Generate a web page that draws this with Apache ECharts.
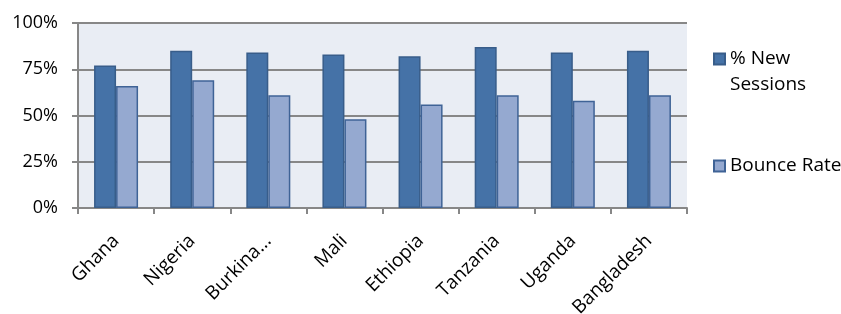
<!DOCTYPE html>
<html>
<head>
<meta charset="utf-8">
<script src="https://cdn.jsdelivr.net/npm/echarts@6/dist/echarts.min.js"></script>
<style>
  html, body { margin: 0; padding: 0; background: #fff; }
  #chart { width: 841px; height: 314px; }
</style>
</head>
<body>
<div id="chart"></div>
<script>
// countries shown on the x axis (third one is cut off in the original)
const countries = ['Ghana', 'Nigeria', 'Burkina...', 'Mali', 'Ethiopia', 'Tanzania', 'Uganda', 'Bangladesh']
const newSessions = [77, 85, 84, 83, 82, 87, 84, 85]
const bounceRate = [66, 69, 61, 48, 56, 61, 58, 61]
const yTicks = [0, 25, 50, 75, 100]

const font = 'Open Sans'
const chart = echarts.init(document.getElementById('chart'))

chart.setOption({
    animation: false,
    textStyle: {fontFamily: font},
    grid: {
        left: 78, right: 154, top: 23, bottom: 106,
        outerBoundsMode: 'none', containLabel: false,
        show: true, backgroundColor: '#e9edf4', borderWidth: 0
    },
    legend: [{
        data: ['% New Sessions'],
        orient: 'vertical', left: 713, top: 20, padding: 0,
        icon: 'rect', itemWidth: 11, itemHeight: 11,
        // blank first line keeps the icon level with "% New"
        formatter: () => ' \n% New\nSessions',
        textStyle: {fontSize: 19, color: '#000', lineHeight: 26}
    }, {
        data: ['Bounce Rate'],
        orient: 'vertical', left: 713, top: 153, padding: 0,
        icon: 'rect', itemWidth: 11, itemHeight: 11,
        textStyle: {fontSize: 19, color: '#000', lineHeight: 26}
    }],
    xAxis: {
        type: 'category',
        data: countries,
        axisLine: {lineStyle: {color: '#878787', width: 2}},
        axisTick: {show: true, length: 6, lineStyle: {color: '#878787', width: 2}},
        axisLabel: {interval: 0, rotate: 45, fontSize: 19, color: '#000', margin: 30}
    },
    yAxis: {
        type: 'value',
        min: yTicks[0], max: yTicks[yTicks.length - 1], interval: 25,
        axisLine: {show: true, lineStyle: {color: '#878787', width: 2}},
        axisTick: {show: true, length: 6, lineStyle: {color: '#878787', width: 2}},
        axisLabel: {fontSize: 18, color: '#000', margin: 20, formatter: v => v + '%'},
        splitLine: {lineStyle: {color: '#878787', width: 2}}
    },
    series: [{
        name: '% New Sessions',
        type: 'bar',
        data: newSessions,
        barWidth: 22,
        barGap: '0%',
        itemStyle: {color: '#4572a7', borderColor: '#385d8a', borderWidth: 1.5}
    }, {
        name: 'Bounce Rate',
        type: 'bar',
        data: bounceRate,
        barWidth: 22,
        barGap: '0%',
        itemStyle: {color: '#95a9d0', borderColor: '#3f6396', borderWidth: 1.5}
    }]
})
</script>
</body>
</html>
